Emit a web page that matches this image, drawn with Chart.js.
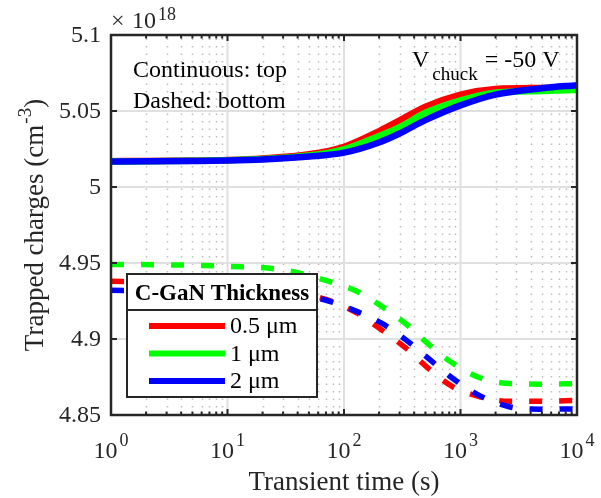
<!DOCTYPE html>
<html>
<head>
<meta charset="utf-8">
<script src="https://cdn.jsdelivr.net/npm/chart.js@4.4.1/dist/chart.umd.min.js"></script>
<style>
  html, body { margin: 0; padding: 0; background: #fff; }
  canvas { display: block; }
</style>
</head>
<body>
<canvas id="chart" width="601" height="498"></canvas>
<script>
// values are in units of 1e18 cm^-3
const topTimes = [1, 2, 5, 10, 20, 50, 100, 200, 300, 500, 1000, 2000, 5000, 10000];
const topRed   = [5.0170, 5.0171, 5.0174, 5.0178, 5.0188, 5.0215, 5.0265, 5.0368, 5.0438, 5.0528, 5.0608, 5.0645, 5.0652, 5.0655];
const topGreen = [5.0168, 5.0169, 5.0172, 5.0176, 5.0184, 5.0207, 5.0248, 5.0336, 5.0394, 5.0488, 5.0570, 5.0620, 5.0632, 5.0638];
const topBlue  = [5.0168, 5.0169, 5.0171, 5.0174, 5.0181, 5.0200, 5.0226, 5.0293, 5.0352, 5.0440, 5.0537, 5.0608, 5.0650, 5.0670];

const bottomTimes = [1, 3, 10, 30, 70, 130, 210, 340, 530, 860, 1470, 2660, 4800, 10000];
const bottomRed   = [4.9380, 4.9375, 4.9360, 4.9320, 4.9260, 4.9170, 4.9060, 4.8940, 4.8806, 4.8685, 4.8620, 4.8590, 4.8590, 4.8597];
const bottomGreen = [4.9490, 4.9488, 4.9478, 4.9455, 4.9385, 4.9313, 4.9216, 4.9100, 4.8966, 4.8840, 4.8745, 4.8707, 4.8703, 4.8707];
const bottomBlue  = [4.9320, 4.9318, 4.9310, 4.9290, 4.9255, 4.9180, 4.9104, 4.8994, 4.8872, 4.8740, 4.8626, 4.8553, 4.8538, 4.8540];

const thicknessLabels = ['0.5 μm', '1 μm', '2 μm'];
const seriesColors = ['#ff0000', '#00ff00', '#0000ff'];

const xTickValues = [1, 10, 100, 1000, 10000];
const xTickExponents = ['0', '1', '2', '3', '4'];
const yTickValues = [4.85, 4.9, 4.95, 5, 5.05, 5.1];
const yTickLabels = ['4.85', '4.9', '4.95', '5', '5.05', '5.1'];

const FONT = '"Liberation Serif", "Times New Roman", serif';
const AXIS_COLOR = '#262626';

function toPoints(times, vals) {
    return times.map((t, i) => ({ x: t, y: vals[i] }));
}

const topSeries = [topRed, topGreen, topBlue];
const bottomSeries = [bottomRed, bottomGreen, bottomBlue];
const datasets = [];
for (let i = 0; i < 3; i++) {
    datasets.push({
        label: thicknessLabels[i] + ' top',
        data: toPoints(topTimes, topSeries[i]),
        borderColor: seriesColors[i],
        borderWidth: 6.5,
        order: 2 - i
    });
    datasets.push({
        label: thicknessLabels[i] + ' bottom',
        data: toPoints(bottomTimes, bottomSeries[i]),
        borderColor: seriesColors[i],
        borderWidth: 5.5,
        borderDash: [13, 17],
        order: 2 - i
    });
}

// grid, frame, ticks, texts and legend box in MATLAB style
const matlabAxes = {
    id: 'matlabAxes',
    beforeDatasetsDraw(chart) {
        const { ctx, chartArea: a, scales: { x, y } } = chart;
        ctx.save();
        // minor dotted x grid
        ctx.strokeStyle = '#bcbcbc';
        ctx.lineWidth = 1.5;
        ctx.setLineDash([1.5, 6]);
        for (let d = 1; d < 10000; d *= 10) {
            for (let m = 2; m <= 9; m++) {
                const px = Math.round(x.getPixelForValue(d * m)) + 0.5;
                ctx.beginPath();
                ctx.moveTo(px, a.bottom);
                ctx.lineTo(px, a.top);
                ctx.stroke();
            }
        }
        ctx.setLineDash([]);
        // major grid
        ctx.strokeStyle = '#e0e0e0';
        ctx.lineWidth = 2;
        xTickValues.forEach(v => {
            const px = x.getPixelForValue(v);
            ctx.beginPath(); ctx.moveTo(px, a.top); ctx.lineTo(px, a.bottom); ctx.stroke();
        });
        yTickValues.forEach(v => {
            const py = y.getPixelForValue(v);
            ctx.beginPath(); ctx.moveTo(a.left, py); ctx.lineTo(a.right, py); ctx.stroke();
        });
        ctx.restore();
    },
    afterDatasetsDraw(chart) {
        const { ctx, chartArea: a, scales: { x, y } } = chart;
        ctx.save();
        ctx.strokeStyle = AXIS_COLOR;
        ctx.fillStyle = AXIS_COLOR;

        // ticks
        ctx.lineWidth = 2;
        for (let d = 1; d < 10000; d *= 10) {
            for (let m = 1; m <= 9; m++) {
                const px = x.getPixelForValue(d * m);
                const len = m === 1 ? 6 : 3.5;
                ctx.beginPath();
                ctx.moveTo(px, a.bottom); ctx.lineTo(px, a.bottom - len);
                ctx.moveTo(px, a.top); ctx.lineTo(px, a.top + len);
                ctx.stroke();
            }
        }
        yTickValues.forEach(v => {
            const py = y.getPixelForValue(v);
            ctx.beginPath();
            ctx.moveTo(a.left, py); ctx.lineTo(a.left + 6, py);
            ctx.moveTo(a.right, py); ctx.lineTo(a.right - 6, py);
            ctx.stroke();
        });

        // frame
        ctx.lineWidth = 2.5;
        ctx.strokeRect(a.left, a.top, a.right - a.left, a.bottom - a.top);

        // tick labels
        ctx.textBaseline = 'alphabetic';
        xTickValues.forEach((v, i) => {
            const px = x.getPixelForValue(v);
            ctx.font = '24px ' + FONT;
            const w1 = ctx.measureText('10').width;
            ctx.font = '18px ' + FONT;
            const w2 = ctx.measureText(xTickExponents[i]).width;
            const start = px - (w1 + w2 + 2) / 2;
            ctx.textAlign = 'left';
            ctx.font = '24px ' + FONT;
            ctx.fillText('10', start, 458);
            ctx.font = '18px ' + FONT;
            ctx.fillText(xTickExponents[i], start + w1 + 2, 446);
        });
        ctx.font = '24px ' + FONT;
        ctx.textAlign = 'right';
        ctx.textBaseline = 'middle';
        yTickValues.forEach((v, i) => {
            ctx.fillText(yTickLabels[i], a.left - 10, y.getPixelForValue(v) + 1);
        });

        // exponent label
        ctx.textAlign = 'left';
        ctx.textBaseline = 'alphabetic';
        ctx.font = '24px ' + FONT;
        ctx.fillText('\u00d7', 111, 28);
        ctx.fillText('10', 132, 28);
        const wx = ctx.measureText('10').width;
        ctx.font = '18px ' + FONT;
        ctx.fillText('18', 132 + wx + 2, 20);

        // axis titles
        ctx.font = '27px ' + FONT;
        ctx.textAlign = 'center';
        ctx.fillText('Transient time (s)', (a.left + a.right) / 2, 490);

        ctx.save();
        ctx.translate(34, (a.top + a.bottom) / 2);
        ctx.rotate(-Math.PI / 2);
        ctx.textAlign = 'left';
        ctx.font = '27px ' + FONT;
        const p1 = 'Trapped charges (cm';
        const w1 = ctx.measureText(p1).width;
        const w3 = ctx.measureText(')').width;
        ctx.font = '19px ' + FONT;
        const w2 = ctx.measureText('-3').width;
        const total = w1 + w2 + w3 + 1;
        let sx = -total / 2;
        ctx.font = '27px ' + FONT;
        ctx.fillText(p1, sx, 9);
        ctx.font = '19px ' + FONT;
        ctx.fillText('-3', sx + w1 + 1, -3);
        ctx.font = '27px ' + FONT;
        ctx.fillText(')', sx + w1 + w2 + 1, 9);
        ctx.restore();

        // annotations
        ctx.fillStyle = '#000';
        ctx.textAlign = 'left';
        ctx.font = '24px ' + FONT;
        ctx.fillText('Continuous: top', 133, 77);
        ctx.fillText('Dashed: bottom', 133, 108);
        ctx.fillText('V', 412, 67);
        const wv = ctx.measureText('V').width;
        ctx.font = '19px ' + FONT;
        ctx.fillText('chuck', 412 + wv + 3, 80);
        const wc = ctx.measureText('chuck').width;
        ctx.font = '24px ' + FONT;
        ctx.fillText('= -50 V', 412 + wv + 3 + wc + 7, 67);

        // legend box
        const lb = { l: 127, t: 274, r: 317, b: 397, sep: 310 };
        ctx.fillStyle = '#fff';
        ctx.fillRect(lb.l, lb.t, lb.r - lb.l, lb.b - lb.t);
        ctx.strokeStyle = AXIS_COLOR;
        ctx.lineWidth = 2;
        ctx.strokeRect(lb.l, lb.t, lb.r - lb.l, lb.b - lb.t);
        ctx.beginPath();
        ctx.moveTo(lb.l, lb.sep); ctx.lineTo(lb.r, lb.sep);
        ctx.stroke();
        ctx.fillStyle = '#000';
        ctx.font = 'bold 23px ' + FONT;
        ctx.textAlign = 'center';
        ctx.fillText('C-GaN Thickness', (lb.l + lb.r) / 2, 300);
        ctx.font = '24px ' + FONT;
        ctx.textAlign = 'left';
        ctx.textBaseline = 'middle';
        thicknessLabels.forEach((lab, i) => {
            const ry = 326 + i * 27.5;
            ctx.strokeStyle = seriesColors[i];
            ctx.lineWidth = 6;
            ctx.beginPath();
            ctx.moveTo(149, ry); ctx.lineTo(225, ry);
            ctx.stroke();
            ctx.fillText(lab, 230, ry + 1);
        });
        ctx.restore();
    }
};

new Chart(document.getElementById('chart').getContext('2d'), {
    type: 'line',
    data: { datasets: datasets },
    options: {
        responsive: false,
        animation: false,
        layout: { padding: { left: 111, right: 24, top: 35, bottom: 83 } },
        elements: {
            point: { radius: 0 },
            line: { cubicInterpolationMode: 'monotone', fill: false }
        },
        scales: {
            x: { type: 'logarithmic', min: 1, max: 10000, display: false },
            y: { type: 'linear', min: 4.85, max: 5.1, display: false }
        },
        plugins: {
            legend: { display: false },
            tooltip: { enabled: false }
        }
    },
    plugins: [matlabAxes]
});
</script>
</body>
</html>
